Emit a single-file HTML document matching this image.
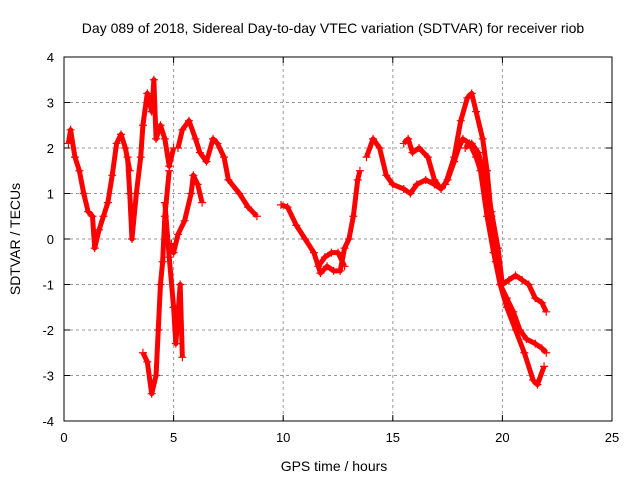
<!DOCTYPE html>
<html><head><meta charset="utf-8"><style>
body{margin:0;background:#fff;}
svg{font-family:"Liberation Sans",sans-serif;}
</style></head><body>
<svg id="chart" width="640" height="480">
<rect width="640" height="480" fill="#fff"/>
<text x="333" y="33" font-size="14" text-anchor="middle">Day 089 of 2018, Sidereal Day-to-day VTEC variation (SDTVAR) for receiver riob</text>
<text x="334" y="471" font-size="14" text-anchor="middle">GPS time / hours</text>
<text x="20" y="239" font-size="14" text-anchor="middle" transform="rotate(-90 20 239)">SDTVAR / TECUs</text>
<g id="grid"></g><g id="marks"></g>
<rect x="64" y="57" width="548" height="364" fill="none" stroke="#000" stroke-width="1"/>
</svg>
<script>
const xTicks=[0,5,10,15,20,25];
const yTicks=[-4,-3,-2,-1,0,1,2,3,4];
const trackA=[[0.2,2.1],[0.3,2.4],[0.5,1.8],[0.7,1.5],[0.9,1.0],[1.1,0.6],[1.3,0.5],[1.4,-0.2],[1.6,0.2],[1.8,0.5],[2.0,0.8],[2.2,1.4],[2.4,2.1],[2.6,2.3],[2.8,2.0],[3.0,1.5]];
const trackB=[[2.9,1.8],[3.0,1.0],[3.1,0.0],[3.3,1.0],[3.5,1.8],[3.6,2.5],[3.8,3.2],[4.0,2.8],[4.1,3.5],[4.2,2.2],[4.4,2.5],[4.6,2.2],[4.8,1.6],[5.0,2.0]];
const trackC=[[5.2,2.0],[5.4,2.4],[5.7,2.6],[6.0,2.2],[6.2,1.9],[6.5,1.7],[6.8,2.2],[7.0,2.1],[7.3,1.8],[7.5,1.3],[8.0,1.0],[8.4,0.7],[8.8,0.5]];
const trackD=[[4.9,-0.1],[5.0,-0.3],[5.2,0.1],[5.5,0.4],[5.8,1.0],[5.9,1.4],[6.1,1.2],[6.3,0.8]];
const trackE=[[3.6,-2.5],[3.8,-2.7],[4.0,-3.4],[4.2,-3.0],[4.3,-2.0],[4.4,-1.0],[4.5,-0.5],[4.6,0.5],[4.8,1.5]];
const trackF=[[4.6,0.8],[4.8,-0.4],[5.0,-1.5],[5.1,-2.3],[5.3,-1.0],[5.4,-2.6]];
const trackG=[[9.9,0.75],[10.2,0.7],[10.6,0.3],[11.0,0.0],[11.4,-0.3],[11.7,-0.75],[12.0,-0.6],[12.3,-0.7],[12.6,-0.7],[12.8,-0.2],[13.0,0.0],[13.2,0.5],[13.4,1.3],[13.5,1.5]];
const trackG2=[[11.6,-0.6],[11.9,-0.4],[12.2,-0.3],[12.5,-0.3],[12.8,-0.6]];
const trackH=[[13.8,1.8],[14.1,2.2],[14.4,2.0],[14.7,1.4],[15.0,1.2],[15.5,1.1],[15.8,1.0],[16.1,1.2],[16.5,1.3],[16.9,1.2],[17.2,1.1],[17.5,1.3],[17.8,1.7],[18.0,2.0],[18.2,2.2],[18.5,2.1],[18.8,1.8],[19.0,1.5],[19.3,0.5],[19.6,-0.3],[19.9,-1.0],[20.2,-1.5],[20.6,-2.0],[21.0,-2.5],[21.4,-3.1],[21.6,-3.2],[21.9,-2.8]];
const trackI=[[15.5,2.1],[15.7,2.2],[15.9,1.9],[16.2,2.0],[16.6,1.8],[16.9,1.3],[17.2,1.1]];
const trackJ=[[17.4,1.2],[17.8,1.8],[18.1,2.6],[18.4,3.1],[18.6,3.2],[18.8,2.8],[19.1,2.2],[19.3,1.5],[19.5,0.5],[19.7,-0.5],[19.9,-1.0],[20.2,-1.3],[20.5,-1.6],[20.8,-2.0],[21.1,-2.2],[21.5,-2.3],[21.8,-2.4],[22.0,-2.5]];
const trackK=[[18.3,2.0],[18.6,2.1],[18.9,1.9],[19.2,1.4],[19.5,0.6],[19.8,-0.2],[20.0,-1.0],[20.3,-0.9],[20.6,-0.8],[20.9,-0.9],[21.2,-1.0],[21.5,-1.3],[21.8,-1.4],[22.0,-1.6]];
const tracks=[trackA,trackB,trackC,trackD,trackE,trackF,trackG,trackG2,trackH,trackI,trackJ,trackK];
const X0=64,X1=612,Y0=421,Y1=57;
function xs(v){return X0+(v-0)/(25-0)*(X1-X0);}
function ys(v){return Y0-(v+4)/8*(Y0-Y1);}
const NS="http://www.w3.org/2000/svg";
const grid=document.getElementById('grid'),marks=document.getElementById('marks');
function mk(t,a,p){const e=document.createElementNS(NS,t);for(const k in a)e.setAttribute(k,a[k]);p.appendChild(e);return e;}
xTicks.forEach(t=>{
  const x=xs(t);
  if(t>0&&t<25){const g=mk('line',{x1:x,x2:x,y1:Y1,y2:Y0,stroke:'#999','stroke-dasharray':'3,3'},grid);
  
  }
  const tl=mk('text',{x:x,y:442,'font-size':13,'text-anchor':'middle'},grid);tl.textContent=t;
  
  
  mk('line',{x1:x,x2:x,y1:Y0,y2:Y0-6,stroke:'#000'},grid);
  mk('line',{x1:x,x2:x,y1:Y1,y2:Y1+6,stroke:'#000'},grid);
});
yTicks.forEach(t=>{
  const y=ys(t);
  if(t>-4&&t<4){const g=mk('line',{x1:X0,x2:X1,y1:y,y2:y,stroke:'#999','stroke-dasharray':'3,3'},grid);
  
  }
  const tl=mk('text',{x:54,y:y+5,'font-size':13,'text-anchor':'end'},grid);tl.textContent=t;
  
  
  mk('line',{x1:X0,x2:X0+6,y1:y,y2:y,stroke:'#000'},grid);
  mk('line',{x1:X1,x2:X1-6,y1:y,y2:y,stroke:'#000'},grid);
});
tracks.forEach(tr=>{
  const pl=mk('polyline',{points:tr.map(p=>xs(p[0])+','+ys(p[1])).join(' '),fill:'none',stroke:'#f00','stroke-width':5,'stroke-linejoin':'round'},marks);
  
  
  tr.forEach(p=>{
    const x=xs(p[0]),y=ys(p[1]);
    const m=mk('path',{d:`M${x-4},${y}H${x+4}M${x},${y-4}V${y+4}`,stroke:'#f00','stroke-width':1.2},marks);
    
    
  });
});
</script>
</body></html>
